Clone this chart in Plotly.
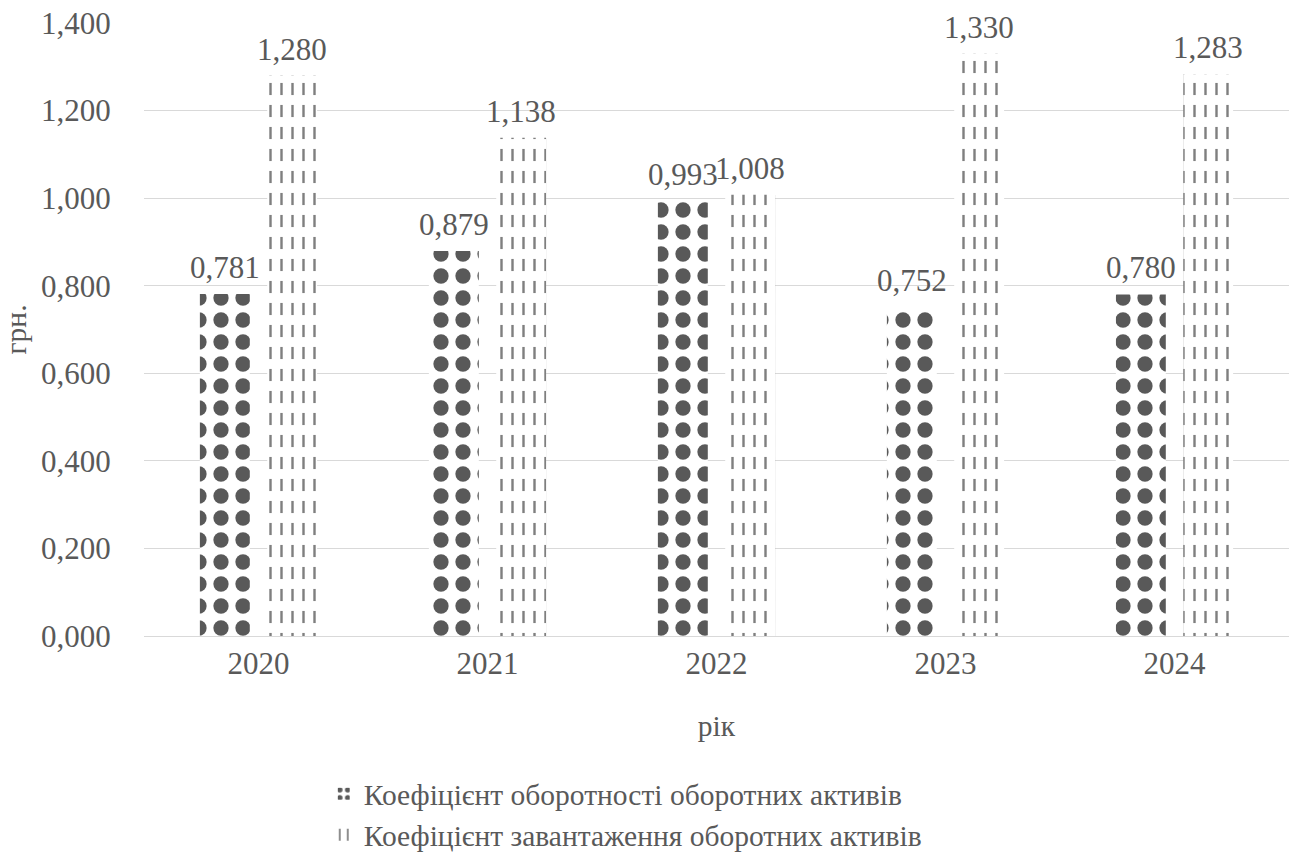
import plotly.graph_objects as go

years = ["2020", "2021", "2022", "2023", "2024"]
turnover = [0.781, 0.879, 0.993, 0.752, 0.780]
load = [1.280, 1.138, 1.008, 1.330, 1.283]
name1 = "Коефіцієнт оборотності оборотних активів"
name2 = "Коефіцієнт завантаження оборотних активів"

FONT = "Liberation Serif"
TXT = "#595959"
FS = 31
LFS = 29.5
W = 0.218
OFF1, OFF2 = -0.256, 0.038

fig = go.Figure()
fig.add_trace(go.Bar(
    x=years, y=turnover, name=name1, offset=OFF1, width=W, legend="legend",
    marker=dict(color="white", line=dict(width=0),
                pattern=dict(shape=".", fgcolor="#595959", bgcolor="white",
                             size=22, solidity=0.38, fillmode="replace")),
))
fig.add_trace(go.Bar(
    x=years, y=load, name=name2, offset=OFF2, width=W, legend="legend2",
    marker=dict(color="white", line=dict(width=0),
                pattern=dict(shape="|", fgcolor="#7f7f7f", bgcolor="white",
                             size=11, solidity=0.22, fillmode="replace")),
))
fig.add_trace(go.Bar(
    x=years, y=load, showlegend=False, offset=OFF2, width=W, hoverinfo="skip",
    marker=dict(color="rgba(0,0,0,0)", line=dict(width=0),
                pattern=dict(shape="-", fgcolor="white", bgcolor="rgba(0,0,0,0)",
                             size=22, solidity=0.45, fillmode="replace")),
))

# data labels, centred over each bar (category axis: x given as category index)
for vals, off in ((turnover, OFF1), (load, OFF2)):
    for i, v in enumerate(vals):
        fig.add_annotation(x=i + off + W / 2, y=v, xref="x", yref="y", showarrow=False,
                           text=f"{v:.3f}".replace(".", ","),
                           yshift=7, xanchor="center", yanchor="bottom",
                           font=dict(family=FONT, size=FS, color=TXT))

leg = dict(orientation="v", x=0.157, xanchor="left", yanchor="middle",
           font=dict(family=FONT, size=LFS, color=TXT), itemsizing="constant",
           bgcolor="rgba(0,0,0,0)")
fig.update_layout(
    width=1307, height=865,
    barmode="overlay",
    separators=", ",
    plot_bgcolor="white", paper_bgcolor="white",
    margin=dict(l=144, r=18, t=23, b=229, autoexpand=False),
    font=dict(family=FONT, size=FS, color=TXT),
    showlegend=True,
    legend=dict(leg, y=-0.258),
    legend2=dict(leg, y=-0.3246),
)
fig.update_xaxes(type="category", range=[-0.5, len(years) - 0.5], autorange=False,
                 showline=True, linecolor="#d9d9d9", linewidth=1, ticks="",
                 automargin=False,
                 tickfont=dict(family=FONT, size=FS, color=TXT),
                 title=dict(text="рік", font=dict(family=FONT, size=LFS, color=TXT), standoff=35))
fig.update_yaxes(range=[0, 1.4], autorange=False, dtick=0.2, tickformat=".3f", showgrid=True,
                 automargin=False,
                 gridcolor="#d9d9d9", gridwidth=1, zeroline=False, showline=False,
                 tickfont=dict(family=FONT, size=FS, color=TXT), ticklen=26, ticks="outside",
                 tickcolor="white",
                 title=dict(text="грн.", font=dict(family=FONT, size=LFS, color=TXT), standoff=14))

fig.write_html("out.html")
